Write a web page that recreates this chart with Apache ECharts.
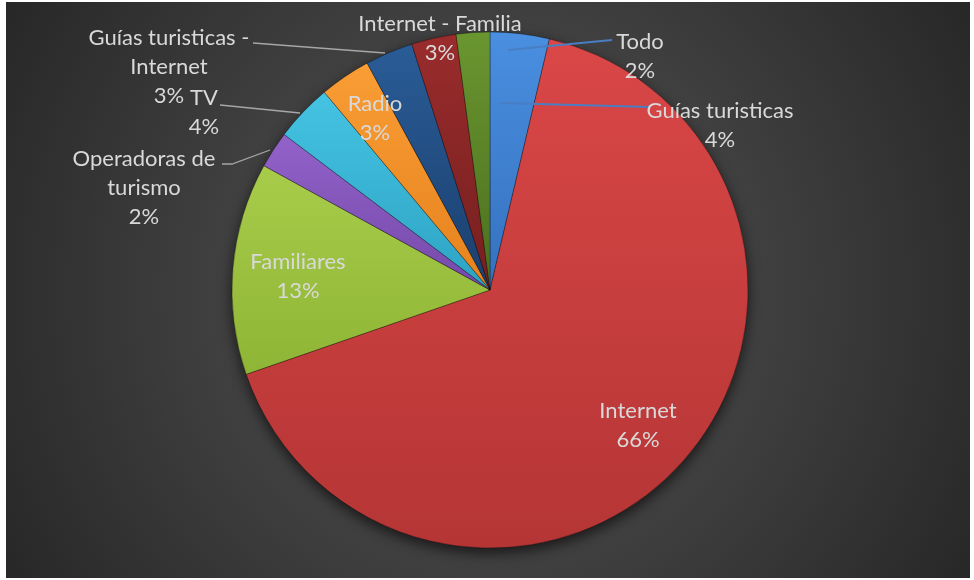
<!DOCTYPE html>
<html><head><meta charset="utf-8">
<script src="https://cdn.jsdelivr.net/npm/echarts@6/dist/echarts.min.js"></script>
<style>html,body{margin:0;background:#fff;width:974px;height:580px;overflow:hidden}#c{position:absolute;left:6px;top:2px;width:964px;height:576px;}</style>
</head><body><div id="c"></div>
<script>
const categories = ['Guías turisticas','Internet','Familiares','Operadoras de turismo','TV','Radio','Guías turisticas - Internet','Internet - Familia','Todo'];
const values = [3.7, 66.0, 13.3, 2.3, 3.6, 3.2, 3.0, 2.8, 2.1];

const topColors = ['#4A8FE0','#DA4747','#A8CC4A','#9262C8','#45C3E2','#FA9D35','#2A5C96','#9A2C2C','#6A9630'];
const botColors = ['#3471BE','#B53535','#8FB536','#7549AA','#2EA3C4','#E5821D','#1A3F6E','#751F1F','#4B6F1E'];

const labelPos = {0:[714,123],1:[632,423],2:[292,274],3:[138,186],4:[198,110],5:[369,116],6:[163,65],7:[434,36],8:[634,54]};
const leaderPts = {0:[[494,101],[644,105]],8:[[502,48],[606,38]],6:[[247,41],[379,51]],4:[[214,103],[294,111]],3:[[216,162],[226,162],[264,148]]};
const outside = {0:true,3:true,4:true,6:true,8:true};
const lineColor = {0:'#4A7EC2',8:'#4A7EC2'};

const chart = echarts.init(document.getElementById('c'));
const sectorData = categories.map((n,i)=>({
  name:n, value:values[i],
  itemStyle:{color:{type:'linear',x:0,y:0,x2:0,y2:1,colorStops:[{offset:0,color:topColors[i]},{offset:1,color:botColors[i]}]}}
}));
const labelData = categories.map((n,i)=>({
  name:n, value:values[i],
  label:{position: outside[i] ? 'outside' : 'inside'},
  labelLine:{show: !!outside[i], lineStyle:{color: lineColor[i] || '#A6A6A6', width: lineColor[i] ? 1.8 : 1.3}}
}));
const common = {type:'pie', center:[484,288], radius:258, startAngle:90, clockwise:true};
chart.setOption({
  backgroundColor:{type:'radial',x:0.5,y:0.5,r:1,colorStops:[{offset:0,color:'#575757'},{offset:1,color:'#262626'}]},
  animation:false,
  series:[Object.assign({}, common, {
    silent:true, z:1,
    data: values.map(v=>({value:v})),
    label:{show:false}, labelLine:{show:false},
    itemStyle:{color:'#333',shadowBlur:14,shadowColor:'rgba(0,0,0,0.65)',shadowOffsetY:5}
  }), Object.assign({}, common, {
    z:2, data: sectorData,
    itemStyle:{borderColor:'rgba(0,0,0,0.3)',borderWidth:1},
    label:{show:false}, labelLine:{show:false}
  }), Object.assign({}, common, {
    z:3, silent:true, data: labelData,
    itemStyle:{color:'rgba(0,0,0,0)',borderWidth:0},
    label:{
      color:'#D9D9D9', fontFamily:'Lato', fontSize:22, lineHeight:29, align:'center',
      formatter: p => p.name.replace(' de turismo',' de\nturismo').replace(' - Internet',' -\nInternet') + '\n' + Math.round(p.percent) + '%'
    },
    labelLine:{length:10,length2:10},
    labelLayout: p => {
      const L = labelPos[p.dataIndex]; if (!L) return {};
      const o = {x:L[0], y:L[1], align:'center', verticalAlign:'middle', moveOverlap:false};
      if (leaderPts[p.dataIndex]) o.labelLinePoints = leaderPts[p.dataIndex];
      return o;
    }
  })]
});
</script></body></html>
